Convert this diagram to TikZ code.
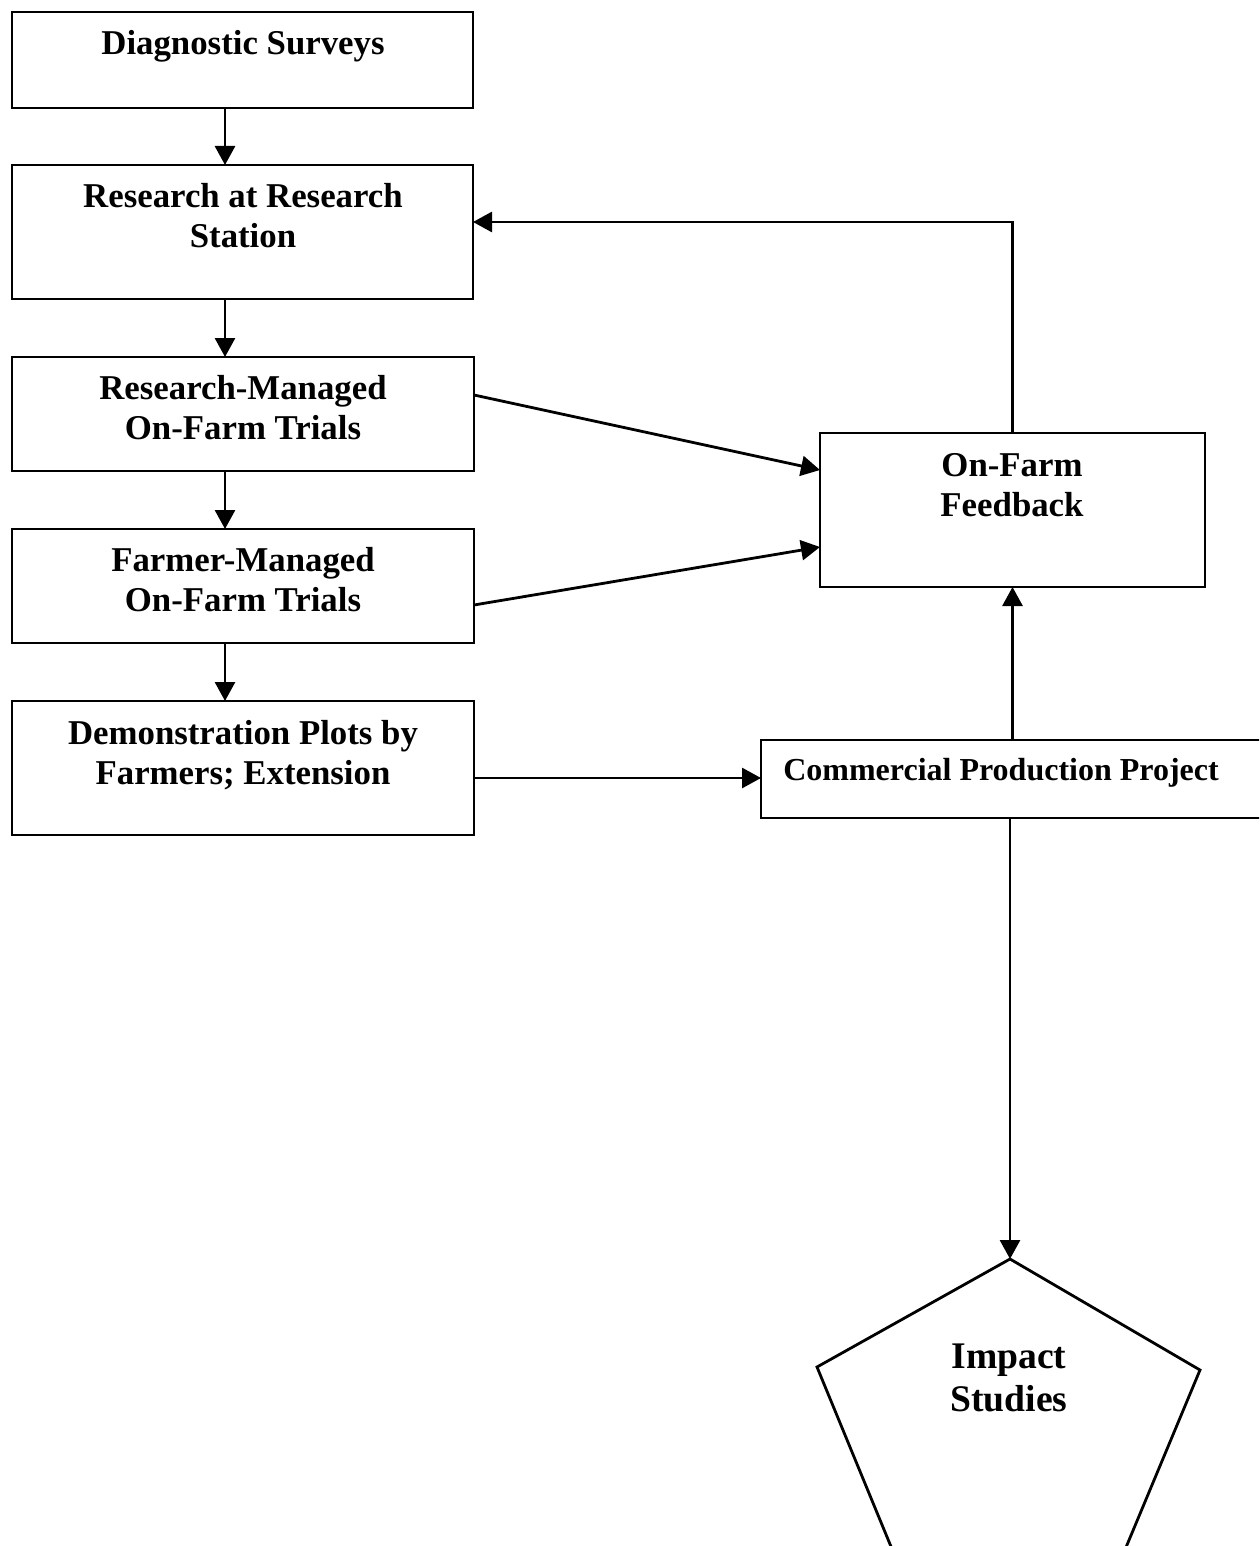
\documentclass[tikz,border=0pt]{standalone}
\usepackage{fontspec}
\setmainfont{Liberation Serif}
\usetikzlibrary{arrows.meta}
\begin{document}
\begin{tikzpicture}[x=0.5pt,y=-0.5pt,
  every node/.style={inner sep=0pt, outer sep=0pt},
  box/.style={draw, line width=1.4pt, rectangle},
  lbl/.style={anchor=base, align=center, font=\fontsize{17.4}{20}\selectfont\bfseries},
  conn/.style={line width=1.4pt},
  arr/.style={conn, -{Triangle[length=9.5pt,width=10pt]}}]
\useasboundingbox (0,0) rectangle (1259,1546);
\clip (0,0) rectangle (1259,1546);

% left column of stages
\node[box, minimum width=230.5pt, minimum height=48pt] (b1) at (242.5,60) {};
\node[box, minimum width=230.5pt, minimum height=67pt] (b2) at (242.5,232) {};
\node[box, minimum width=231pt, minimum height=57pt] (b3) at (243,414) {};
\node[box, minimum width=231pt, minimum height=57pt] (b4) at (243,586) {};
\node[box, minimum width=231pt, minimum height=67pt] (b5) at (243,768) {};

% labels are placed by the baseline of their last line
\node[lbl] (t1) at (243,55) {Diagnostic Surveys};
\node[lbl] (t2) at (243,248) {Research at Research\\Station};
\node[lbl] (t3) at (243,439) {Research-Managed\\On-Farm Trials};
\node[lbl] (t4) at (243,611) {Farmer-Managed\\On-Farm Trials};
\node[lbl] (t5) at (243,784) {Demonstration Plots by\\Farmers; Extension};

% right column
\node[box, minimum width=192.5pt, minimum height=77pt] (fb) at (1012.5,510) {};
\node[lbl] (tfb) at (1012,516) {On-Farm\\Feedback};
\node[box, minimum width=254.5pt, minimum height=39pt] (cp) at (1015.5,779) {};
\node[lbl, font=\fontsize{16}{19}\selectfont\bfseries] (tcp) at (1001,780) {Commercial Production Project};

% impact studies pentagon
\coordinate (imp) at (1010,1259);
\coordinate (pr) at (1200,1370);
\coordinate (pbr) at (1104,1600);
\coordinate (pbl) at (913,1600);
\coordinate (pl) at (817,1367);
\draw[conn, line join=miter] (imp) -- (pr) -- (pbr) -- (pbl) -- (pl) -- cycle;
\node[lbl, font=\fontsize{18.8}{21.5}\selectfont\bfseries] (timp) at (1009,1411) {Impact\\Studies};

% connectors
\coordinate (colx) at (225,0);
\draw[arr] (b1.south -| colx) -- (b2.north -| colx);
\draw[arr] (b2.south -| colx) -- (b3.north -| colx);
\draw[arr] (b3.south -| colx) -- (b4.north -| colx);
\draw[arr] (b4.south -| colx) -- (b5.north -| colx);

\draw[arr] (fb.north) |- ([yshift=5pt]b2.east);
\draw[arr] ([yshift=9.5pt]b3.east) -- ([yshift=20pt]fb.west);
\draw[arr] ([yshift=-9.5pt]b4.east) -- ([yshift=-18.5pt]fb.west);
\draw[arr] ([yshift=-5pt]b5.east) -- ([yshift=-5pt]b5.east -| cp.west);
\draw[arr] (cp.north -| fb.south) -- (fb.south);
\draw[arr] (cp.south -| imp) -- (imp);
\end{tikzpicture}
\end{document}
